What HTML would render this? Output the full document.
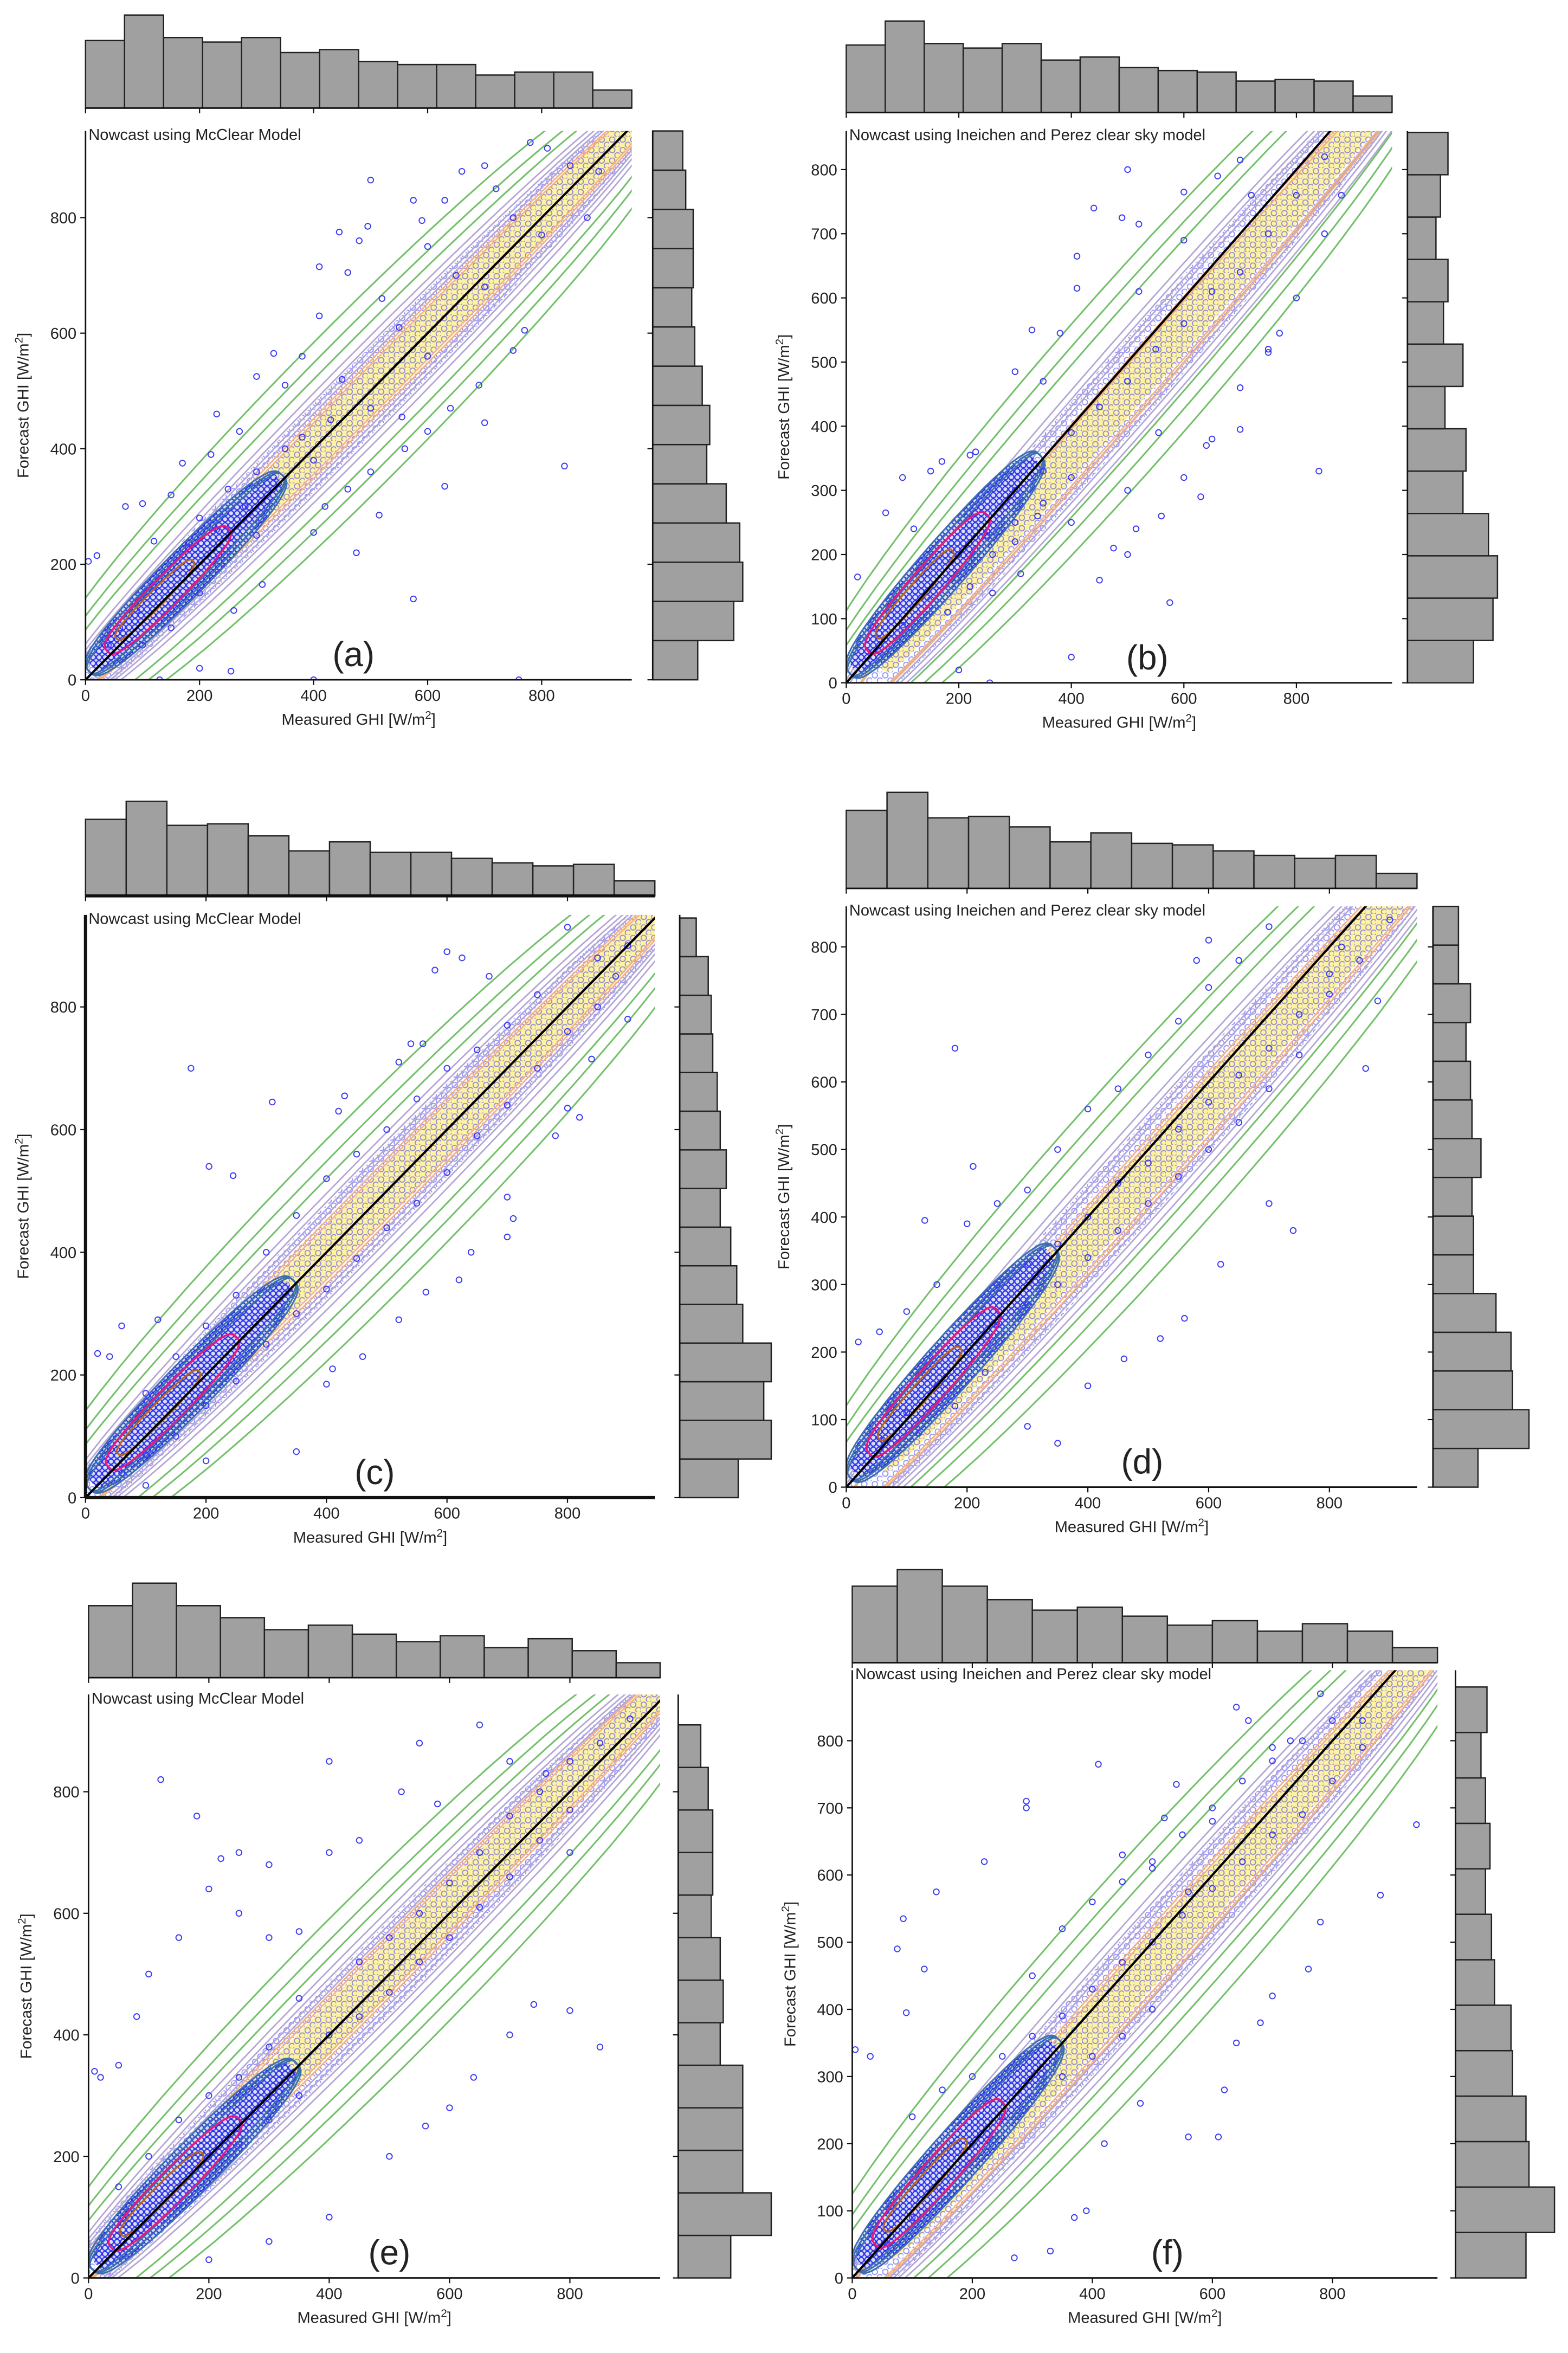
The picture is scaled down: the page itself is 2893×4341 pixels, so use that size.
<!DOCTYPE html>
<html><head><meta charset="utf-8"><title>GHI nowcast joint plots</title>
<style>
html,body{margin:0;padding:0;background:#fff;}
svg{display:block;}
text{font-family:"Liberation Sans","DejaVu Sans",sans-serif;fill:#222;}
</style></head>
<body>
<svg id="fig" xmlns="http://www.w3.org/2000/svg" width="2893" height="4341" viewBox="0 0 1045 1568">
<defs>
<pattern id="dots" width="7" height="7" patternUnits="userSpaceOnUse">
<circle cx="2" cy="2" r="1.8" fill="none" stroke="#3a3af5" stroke-width="0.7"/>
<circle cx="5.5" cy="5.5" r="1.8" fill="none" stroke="#3a3af5" stroke-width="0.7"/>
</pattern>
<pattern id="dots2" width="4" height="4" patternUnits="userSpaceOnUse">
<circle cx="2" cy="2" r="1.7" fill="none" stroke="#2a2af0" stroke-width="0.8"/>
</pattern>
</defs>
</svg>
<script>
// ---------- data ----------
const xTicks = [0,200,400,600,800];
const yTicksA = [0,200,400,600,800];
const yTicksB = [0,100,200,300,400,500,600,700,800];
const titlesArr = ["Nowcast using McClear Model","Nowcast using Ineichen and Perez clear sky model"];
const lettersArr = ["(a)","(b)","(c)","(d)","(e)","(f)"];

const topHistA = [45,62,47,44,47,37,39,31,29,29,22,24,24,12];
const rightHistA = [30,54,60,58,49,36,38,33,28,26,27,27,22,20];
const topHistB = [45,61,46,43,46,35,37,30,28,27,21,22,21,11];
const rightHistB = [44,57,60,54,37,39,25,37,24,27,19,22,27];
const topHistC = [51,63,47,48,40,30,36,29,29,25,22,20,21,10];
const rightHistC = [39,61,56,61,42,38,34,27,31,27,25,22,21,19,11];
const topHistD = [52,64,47,48,41,31,37,30,29,25,22,20,22,10];
const rightHistD = [30,64,53,52,42,27,27,26,32,26,25,22,25,17,17];
const topHistE = [48,63,48,40,32,35,29,24,28,20,26,18,10];
const rightHistE = [35,62,43,43,43,28,30,28,22,23,23,20,15];
const topHistF = [51,62,51,42,35,37,31,25,28,21,26,21,10];
const rightHistF = [47,66,49,47,38,37,26,24,20,23,20,17,21];

const ptsA = [[500,865],[445,775],[495,785],[410,715],[460,705],[480,760],[575,830],[630,830],[660,880],[700,890],[330,565],[300,525],[230,460],[170,375],[100,305],[70,300],[20,215],[5,205],[575,140],[475,220],[515,285],[630,335],[700,445],[840,370],[750,570],[770,605],[600,750],[720,850],[780,930],[810,920],[880,800],[270,430],[380,560],[350,510],[410,630],[220,390],[520,660],[590,795],[150,320],[120,240],[640,470],[555,455],[500,360],[400,255],[310,165],[260,120],[200,20],[255,15],[130,0],[400,0],[760,0],[420,300],[460,330],[560,400],[600,430],[690,510],[200,280],[250,330],[300,360],[350,400],[450,520],[550,610],[650,700],[750,800],[850,890],[400,380],[300,250],[200,150],[150,90],[100,60],[500,470],[600,560],[700,680],[800,770],[900,880],[180,230],[230,260],[280,300],[330,350],[380,420],[430,450],[120,160],[90,120],[60,90],[40,60]];
const ptsB = [[500,800],[440,740],[490,725],[410,665],[520,715],[600,765],[660,790],[700,815],[330,550],[300,485],[230,360],[170,345],[100,320],[70,265],[20,165],[575,125],[475,210],[515,240],[630,290],[700,395],[840,330],[750,515],[770,545],[600,690],[720,760],[380,545],[350,470],[410,615],[220,355],[520,610],[150,330],[120,240],[640,370],[555,390],[500,300],[400,250],[310,170],[260,140],[200,20],[255,0],[400,40],[450,160],[500,200],[560,260],[600,320],[650,380],[700,460],[750,520],[800,600],[850,700],[880,760],[300,300],[350,330],[400,390],[450,430],[500,470],[550,520],[600,560],[650,610],[700,640],[750,700],[800,760],[850,820],[200,200],[250,230],[300,250],[350,280],[400,320],[150,130],[100,90],[180,110],[220,150],[260,200],[300,220],[340,260]];
const ptsC = [[175,700],[310,645],[205,540],[245,525],[600,890],[580,860],[625,880],[670,850],[540,740],[520,710],[560,740],[430,655],[420,630],[700,490],[710,455],[700,425],[640,400],[620,355],[565,335],[520,290],[460,230],[410,210],[400,185],[350,75],[200,60],[100,20],[20,235],[40,230],[60,280],[120,290],[800,635],[780,590],[820,620],[840,715],[900,780],[880,850],[800,930],[300,400],[350,460],[400,520],[450,560],[500,600],[550,650],[600,700],[650,730],[700,770],[750,820],[850,880],[900,900],[250,330],[200,280],[150,230],[100,170],[300,250],[350,300],[400,340],[450,390],[500,440],[550,480],[600,530],[650,590],[700,640],[750,700],[800,760],[850,800],[200,150],[250,190],[150,100],[100,70],[60,40]];
const ptsD = [[180,650],[210,475],[130,395],[55,230],[20,215],[100,260],[150,300],[200,390],[250,420],[300,440],[350,500],[400,560],[450,590],[500,640],[550,690],[600,740],[650,780],[700,830],[600,810],[580,780],[740,380],[700,420],[620,330],[560,250],[520,220],[460,190],[400,150],[350,65],[300,90],[860,620],[880,720],[800,760],[820,800],[900,840],[250,300],[300,330],[350,360],[400,400],[450,450],[500,480],[550,530],[600,570],[650,610],[700,650],[750,700],[800,730],[850,780],[200,200],[250,240],[300,270],[350,300],[400,340],[450,380],[500,420],[550,460],[600,500],[650,540],[700,590],[750,640],[150,150],[100,110],[60,70],[120,80],[180,120],[230,170]];
const ptsE = [[120,820],[180,760],[220,690],[250,600],[300,560],[200,640],[150,560],[100,500],[80,430],[50,350],[20,330],[10,340],[350,570],[400,700],[450,720],[520,800],[580,780],[300,680],[250,700],[400,850],[550,880],[650,910],[700,850],[760,830],[800,700],[850,380],[800,440],[740,450],[700,400],[640,330],[600,280],[560,250],[500,200],[400,100],[300,60],[200,30],[350,460],[450,520],[500,560],[550,600],[600,650],[650,700],[700,760],[750,800],[800,850],[850,880],[900,920],[300,380],[250,330],[200,300],[150,260],[100,200],[50,150],[400,400],[450,430],[500,470],[550,520],[600,560],[650,610],[700,660],[750,720],[800,770],[200,200],[250,220],[300,260],[350,300],[150,120],[100,90]];
const ptsF = [[140,575],[85,535],[75,490],[120,460],[90,395],[30,330],[5,340],[220,620],[290,700],[290,710],[410,765],[450,630],[500,610],[560,575],[520,685],[540,735],[600,680],[660,830],[640,850],[700,790],[730,800],[780,870],[850,830],[940,675],[880,570],[780,530],[760,460],[700,420],[680,380],[640,350],[620,280],[610,210],[560,210],[480,260],[420,200],[370,90],[390,100],[330,40],[270,30],[300,450],[350,520],[400,560],[450,590],[500,620],[550,660],[600,700],[650,740],[700,770],[750,800],[800,830],[250,330],[200,300],[150,280],[100,240],[300,360],[350,390],[400,430],[450,470],[500,500],[550,540],[600,580],[650,620],[700,660],[750,690],[800,740],[850,790],[200,200],[250,240],[300,270],[350,300],[400,330],[450,360],[500,400],[150,130],[100,90],[60,50]];

// ---------- layout (pixels in 1045x1568 space) ----------
const panels = [
 {id:'a',X0:57,xs:0.38,xmax:958,YB:453,ys:0.385,ymax:950,yt:yTicksA,title:0,top:topHistA,topBase:72,right:rightHistA,rX:435,rMax:950,pts:ptsA,lx:470,off:0,thick:false},
 {id:'b',X0:564,xs:0.375,xmax:970,YB:455,ys:0.4275,ymax:860,yt:yTicksB,title:1,top:topHistB,topBase:75,right:rightHistB,rX:938,rMax:858,pts:ptsB,lx:535,off:-35,thick:false},
 {id:'c',X0:57,xs:0.4015,xmax:945,YB:998,ys:0.40875,ymax:950,yt:yTicksA,title:0,top:topHistC,topBase:597,right:rightHistC,rX:453,rMax:945,pts:ptsC,lx:480,off:0,thick:true},
 {id:'d',X0:564,xs:0.4025,xmax:945,YB:991,ys:0.45,ymax:860,yt:yTicksB,title:1,top:topHistD,topBase:592,right:rightHistD,rX:955,rMax:860,pts:ptsD,lx:490,off:-25,thick:false},
 {id:'e',X0:59,xs:0.401,xmax:950,YB:1518,ys:0.405,ymax:960,yt:yTicksA,title:0,top:topHistE,topBase:1118,right:rightHistE,rX:452,rMax:910,pts:ptsE,lx:500,off:10,thick:false},
 {id:'f',X0:568,xs:0.4,xmax:975,YB:1518,ys:0.4475,ymax:905,yt:yTicksB,title:1,top:topHistF,topBase:1108,right:rightHistF,rX:970,rMax:880,pts:ptsF,lx:525,off:-20,thick:false}
];

const NS='http://www.w3.org/2000/svg';
const svg=document.getElementById('fig');
function mk(tag,attrs,parent){const e=document.createElementNS(NS,tag);for(const k in attrs)e.setAttribute(k,attrs[k]);(parent||svg).appendChild(e);return e;}

panels.forEach((p,pi)=>{
  const g=mk('g',{});
  
  
  const sx=v=>p.X0+v*p.xs, sy=v=>p.YB-v*p.ys;
  const X1=sx(p.xmax), YT=sy(p.ymax);
  const cp=mk('clipPath',{id:'clip'+p.id},g);
  mk('rect',{x:p.X0,y:YT,width:X1-p.X0,height:p.YB-YT},cp);
  const plot=mk('g',{'clip-path':'url(#clip'+p.id+')'},g);
  
  
  function band(s,L,W,o,stroke,sw,fill,pw){
    let d='';const r=Math.SQRT1_2;
    for(let i=0;i<=72;i++){const t=i/72*2*Math.PI;const a=L*Math.cos(t);const sn=Math.sin(t);const b=W*Math.sign(sn)*Math.pow(Math.abs(sn),pw||0.6)+o;
      const x=s+(a-b)*r,y=s+(a+b)*r;d+=(i?'L':'M')+sx(x).toFixed(1)+','+sy(y).toFixed(1);}
    return mk('path',{d:d+'Z',fill:fill||'none',stroke:stroke||'none','stroke-width':sw||1},plot);}
  const o=p.off;
  band(530,690,30,o*0.9,'none',0,'rgba(255,240,140,0.8)');
  const dn=band(480,720,55,o*0.8,'none',0,'url(#dots)');dn.setAttribute('opacity','0.55');
  [130,105,85].forEach(w=>{const e=band(480,760,w,o*0.5,'#73c06b',1.1);});
  [68,58,50,43].forEach(w=>{const e=band(490,740,w,o*0.8,'#b3a6d6',1);});
  [37,32].forEach(w=>{const e=band(500,720,w,o,'#f6b27c',1);});
  band(180,230,40,6,'none',0,'rgba(255,255,255,0.9)');
  band(180,230,40,6,'none',0,'url(#dots2)');
  band(180,230,40,6,'none',0,'rgba(60,90,230,0.18)');
  [40,33,26].forEach(w=>{const e=band(180,240,w,6,'#3a6fb0',1.1);});
  p.pts.forEach(q=>{const c=mk('circle',{cx:sx(q[0]),cy:sy(q[1]),r:1.9,fill:'none',stroke:'#3a3af5','stroke-width':0.7},plot);
    
    });
  const red=band(150,150,26,8,'#e8197a',1.3);
  const br=band(130,95,14,12,'#b8651e',1.2);
  const diag=mk('line',{x1:sx(0),y1:sy(0),x2:sx(1000),y2:sy(1000),stroke:'#000','stroke-width':1.5},plot);
  
  
  const sw=p.thick?2.2:1;
  mk('line',{x1:p.X0,y1:YT,x2:p.X0,y2:p.YB,stroke:'#111','stroke-width':sw},g);
  mk('line',{x1:p.X0,y1:p.YB,x2:X1,y2:p.YB,stroke:'#111','stroke-width':sw},g);
  xTicks.forEach(v=>{mk('line',{x1:sx(v),y1:p.YB,x2:sx(v),y2:p.YB+3.5,stroke:'#111','stroke-width':0.8},g);
    const t=mk('text',{x:sx(v),y:p.YB+14,'font-size':10.5,'text-anchor':'middle'},g);t.textContent=v;
    });
  p.yt.forEach(v=>{mk('line',{x1:p.X0-3.5,y1:sy(v),x2:p.X0,y2:sy(v),stroke:'#111','stroke-width':0.8},g);
    const t=mk('text',{x:p.X0-6,y:sy(v)+3.8,'font-size':10.5,'text-anchor':'end'},g);t.textContent=v;
    });
  const xl=mk('text',{x:(p.X0+X1)/2,y:p.YB+30,'font-size':10.5,'text-anchor':'middle'},g);
  xl.innerHTML='Measured GHI [W/m<tspan dy="-4" font-size="7.5">2</tspan><tspan dy="4">]</tspan>';
  
  const ylx=p.X0-38, yly=(YT+p.YB)/2;
  const yl=mk('text',{x:ylx,y:yly,'font-size':10.5,'text-anchor':'middle',transform:`rotate(-90 ${ylx} ${yly})`},g);
  yl.innerHTML='Forecast GHI [W/m<tspan dy="-4" font-size="7.5">2</tspan><tspan dy="4">]</tspan>';
  
  const ti=mk('text',{x:p.X0+2,y:YT+6,'font-size':10.5},g);ti.textContent=titlesArr[p.title];
  
  const le=mk('text',{x:sx(p.lx),y:p.YB-9,'font-size':23,'text-anchor':'middle'},g);le.textContent=lettersArr[pi];
  
  const nT=p.top.length, bw=(X1-p.X0)/nT;
  p.top.forEach((h,i)=>{const r=mk('rect',{x:p.X0+i*bw,y:p.topBase-h,width:bw,height:h,fill:'#a0a0a0',stroke:'#222','stroke-width':0.9},g);
    });
  mk('line',{x1:p.X0,y1:p.topBase,x2:X1,y2:p.topBase,stroke:'#111','stroke-width':p.thick?2:1},g);
  xTicks.forEach(v=>mk('line',{x1:sx(v),y1:p.topBase,x2:sx(v),y2:p.topBase+3.5,stroke:'#111','stroke-width':0.8},g));
  const nR=p.right.length, bh=p.rMax/nR;
  p.right.forEach((w,i)=>{const yTop=sy((i+1)*bh), yBot=sy(i*bh);
    const r=mk('rect',{x:p.rX,y:yTop,width:w,height:yBot-yTop,fill:'#a0a0a0',stroke:'#222','stroke-width':0.9},g);
    });
  mk('line',{x1:p.rX,y1:YT,x2:p.rX,y2:p.YB,stroke:'#111','stroke-width':1},g);
  p.yt.forEach(v=>mk('line',{x1:p.rX-3.5,y1:sy(v),x2:p.rX,y2:sy(v),stroke:'#111','stroke-width':0.8},g));
});
</script>
</body></html>
